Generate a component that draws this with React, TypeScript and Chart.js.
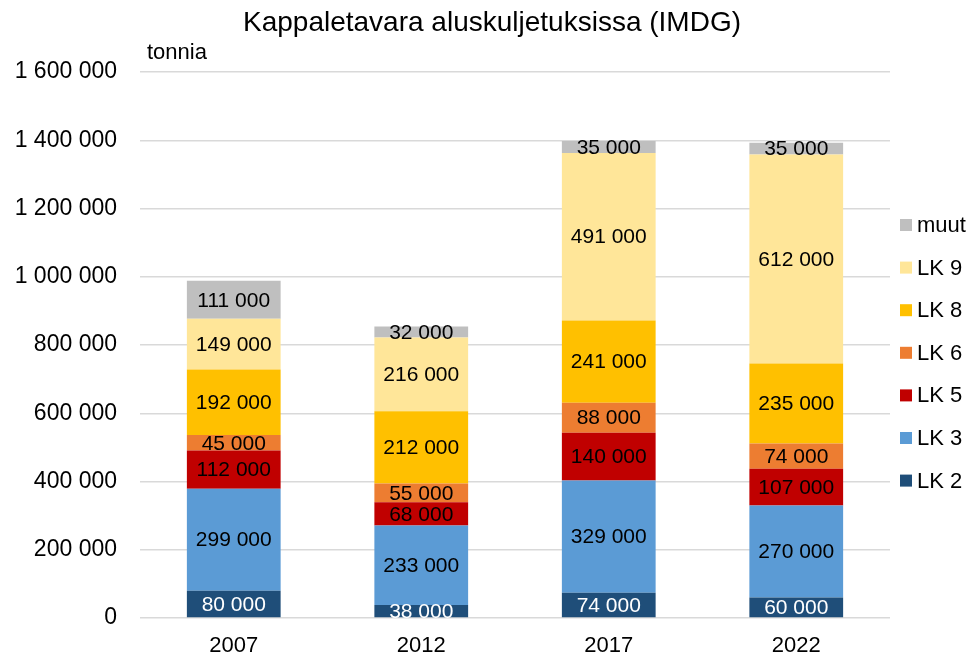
import React, { useEffect, useRef } from "react";
import { Chart, registerables } from "chart.js";

Chart.register(...registerables);

const categories = ["2007", "2012", "2017", "2022"];
const lk2 = [80000, 38000, 74000, 60000];
const lk3 = [299000, 233000, 329000, 270000];
const lk5 = [112000, 68000, 140000, 107000];
const lk6 = [45000, 55000, 88000, 74000];
const lk8 = [192000, 212000, 241000, 235000];
const lk9 = [149000, 216000, 491000, 612000];
const muut = [111000, 32000, 35000, 35000];
const seriesNames = ["LK 2", "LK 3", "LK 5", "LK 6", "LK 8", "LK 9", "muut"];
const seriesColors = ["#1f4e79", "#5b9bd5", "#c00000", "#ed7d31", "#ffc000", "#ffe699", "#bfbfbf"];
const labelColors = ["#ffffff", "#000000", "#000000", "#000000", "#000000", "#000000", "#000000"];
const title = "Kappaletavara aluskuljetuksissa (IMDG)";
const unitLabel = "tonnia";

const fmt = (v: number) => {
  const s = Math.round(v).toString();
  return s.replace(/\B(?=(\d{3})+(?!\d))/g, " ");
};

const FONT = "'Liberation Sans', Arial, sans-serif";

const labelPlugin = {
  id: "segLabels",
  afterDatasetsDraw(chart: any) {
    const ctx = chart.ctx;
    const area = chart.chartArea;
    ctx.save();
    ctx.beginPath();
    ctx.rect(area.left, area.top, area.right - area.left, area.bottom - area.top);
    ctx.clip();
    ctx.font = `21px ${FONT}`;
    ctx.textAlign = "center";
    ctx.textBaseline = "middle";
    chart.data.datasets.forEach((ds: any, di: number) => {
      const meta = chart.getDatasetMeta(di);
      meta.data.forEach((el: any, i: number) => {
        const v = ds.data[i];
        const p = el.getProps(["x", "y", "base"], true);
        ctx.fillStyle = labelColors[di];
        ctx.fillText(fmt(v), p.x, (p.y + p.base) / 2 + 1);
      });
    });
    ctx.restore();

    // title
    ctx.save();
    ctx.font = `28px ${FONT}`;
    ctx.fillStyle = "#000";
    ctx.textAlign = "center";
    ctx.textBaseline = "middle";
    ctx.fillText(title, 492, 23);
    ctx.restore();

    // unit label
    ctx.save();
    ctx.font = `22px ${FONT}`;
    ctx.fillStyle = "#000";
    ctx.textAlign = "left";
    ctx.textBaseline = "middle";
    ctx.fillText(unitLabel, area.left + 7, area.top - 19);
    ctx.restore();

    // legend (reversed order)
    ctx.save();
    ctx.font = `22px ${FONT}`;
    ctx.textAlign = "left";
    ctx.textBaseline = "middle";
    const n = chart.data.datasets.length;
    const x0 = area.right + 10;
    const y0 = 225;
    const step = 42.6;
    for (let k = 0; k < n; k++) {
      const di = n - 1 - k;
      const y = y0 + k * step;
      ctx.fillStyle = seriesColors[di];
      ctx.fillRect(x0, y - 6, 12, 12);
      ctx.fillStyle = "#000";
      ctx.fillText(seriesNames[di], x0 + 17, y + 1);
    }
    ctx.restore();
  },
};

export default function App() {
  const ref = useRef<HTMLCanvasElement>(null);
  useEffect(() => {
    document.body.style.margin = "0";
    const chart = new Chart(ref.current!, {
      type: "bar",
      data: {
        labels: categories,
        datasets: [lk2, lk3, lk5, lk6, lk8, lk9, muut].map((d, i) => ({
          label: seriesNames[i],
          data: d,
          backgroundColor: seriesColors[i],
          borderWidth: 0,
          categoryPercentage: 1,
          barPercentage: 0.5,
        })),
      },
      options: {
        animation: false,
        responsive: false,
        layout: { padding: { left: 8, right: 85, top: 72, bottom: 0 } },
        plugins: {
          title: { display: false },
          legend: { display: false },
          tooltip: { enabled: false },
        },
        scales: {
          x: {
            stacked: true,
            grid: { display: false },
            border: { display: false },
            ticks: { color: "#000", font: { family: FONT, size: 22 }, padding: 7 },
            afterFit: (s: any) => {
              s.height = 43;
            },
          },
          y: {
            stacked: true,
            min: 0,
            max: 1600000,
            ticks: {
              stepSize: 200000,
              color: "#000",
              font: { family: FONT, size: 23 },
              padding: 23,
              callback: (v: any) => fmt(Number(v)),
            },
            grid: { color: "#d9d9d9", lineWidth: 1.5, drawTicks: false },
            border: { display: false },
            afterFit: (s: any) => {
              s.width = 132;
            },
          },
        },
      },
      plugins: [labelPlugin],
    });
    return () => chart.destroy();
  }, []);
  return (
    <div style={{ width: 975, height: 661 }}>
      <canvas ref={ref} width={975} height={661} />
    </div>
  );
}
